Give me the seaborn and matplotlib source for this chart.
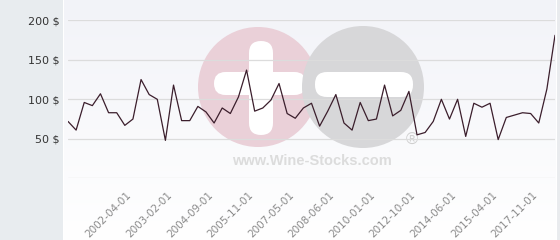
import numpy as np
import pandas as pd
import matplotlib
matplotlib.use("Agg")
import matplotlib.pyplot as plt
import matplotlib.transforms as mtransforms
from matplotlib.patches import Circle, FancyBboxPatch, Rectangle
import seaborn as sns

# ---- data ----
prices = [72, 61, 96, 92, 107, 83, 83, 67, 75, 125,
          106, 100, 48, 118, 73, 73, 91, 84, 70, 89,
          82, 103, 137, 85, 89, 99, 120, 82, 76, 89,
          95, 66, 85, 106, 70, 61, 96, 73, 75, 118,
          79, 86, 110, 55, 58, 72, 100, 75, 100, 53,
          95, 90, 95, 49, 77, 80, 83, 82, 70, 113, 181]
tick_labels = ["2002-04-01", "2003-02-01", "2004-09-01", "2005-11-01",
               "2007-05-01", "2008-06-01", "2010-01-01", "2012-10-01",
               "2014-06-01", "2015-04-01", "2017-11-01"]
tick_index = [8, 13, 18, 23, 28, 33, 38, 43, 48, 53, 58]
y_ticks = [0, 50, 100, 150, 200]
y_tick_labels = ["", "50 $", "100 $", "150 $", "200 $"]

df = pd.DataFrame({"idx": np.arange(len(prices)), "price": prices})

sns.set_style("white")
plt.rcParams['font.family'] = ['DejaVu Sans']

W, H = 560, 240
fig = plt.figure(figsize=(W / 100, H / 100), dpi=100)
fig.patch.set_facecolor("white")

# left panel
fig.add_artist(Rectangle((0, 0), 63 / W, 1, transform=fig.transFigure,
                         facecolor="#e8ecef", edgecolor="none", zorder=0))
fig.add_artist(Rectangle((557 / W, 0), 3 / W, 1, transform=fig.transFigure,
                         facecolor="#e9ebee", edgecolor="none", zorder=0))

# gradient background of plot region
ax_bg = fig.add_axes([64 / W, 0, 492 / W, 1], zorder=0)
grad = np.linspace(0, 1, 256).reshape(-1, 1)
top = np.array([242, 243, 248]) / 255
bot = np.array([255, 255, 255]) / 255
img = top[None, None, :] * (1 - grad[:, :, None]) + bot[None, None, :] * grad[:, :, None]
ax_bg.imshow(img, aspect="auto", extent=[0, 1, 0, 1], origin="upper")
ax_bg.set_axis_off()

# watermark (pixel coords -> figure coords)
ax_wm = fig.add_axes([0, 0, 1, 1], zorder=1)
ax_wm.set_xlim(0, W)
ax_wm.set_ylim(H, 0)
ax_wm.set_axis_off()
ax_wm.patch.set_alpha(0)
ax_wm.add_patch(Circle((258, 87), 60, facecolor="#ead0d8", edgecolor="none"))
ax_wm.add_patch(FancyBboxPatch((249, 41), 24, 94, boxstyle="round,pad=0,rounding_size=12",
                               facecolor="white", edgecolor="none"))
ax_wm.add_patch(FancyBboxPatch((214, 72), 92, 23, boxstyle="round,pad=0,rounding_size=11.5",
                               facecolor="white", edgecolor="none"))
ax_wm.add_patch(Circle((363, 87), 61, facecolor="#d7d7d9", edgecolor="none"))
ax_wm.add_patch(FancyBboxPatch((315, 72), 98, 25, boxstyle="round,pad=0,rounding_size=12",
                               facecolor="white", edgecolor="none"))
ax_wm.text(312, 161, "www.Wine-Stocks.com", ha="center", va="center",
           fontsize=10.5, fontweight="bold", color="#dcdcdc",
           family=["Liberation Sans", "DejaVu Sans"])
ax_wm.text(412, 140, "®", ha="center", va="center", fontsize=12,
           color="#cfcfcf", family=["Liberation Sans", "DejaVu Sans"])

# main axes
x0, x1 = 68, 555
y_top, y_bot = 20.3, 178.3
ax = fig.add_axes([x0 / W, (H - y_bot) / H, (x1 - x0) / W, (y_bot - y_top) / H], zorder=2)
ax.patch.set_alpha(0)
sns.lineplot(data=df, x="idx", y="price", ax=ax, color="#3b1e2c", linewidth=0.9)
ax.set_xlim(0, len(prices) - 1)
ax.set_ylim(0, 200)
ax.set_yticks(y_ticks)
ax.set_yticklabels(y_tick_labels)
ax.yaxis.grid(True, color="#dcdcdc", linewidth=0.9)
ax.xaxis.grid(False)
ax.set_axisbelow(True)
for s in ax.spines.values():
    s.set_visible(False)
ax.tick_params(axis="y", length=0, pad=6.3, labelsize=8, labelcolor="#333333")
ax.set_xticks(tick_index)
ax.set_xticklabels(tick_labels)
ax.tick_params(axis="x", length=0, pad=11, labelsize=7.5, labelcolor="#8a8a8a")
offset = mtransforms.ScaledTranslation(-3 / 100, 0, fig.dpi_scale_trans)
for lbl in ax.get_xticklabels():
    lbl.set_rotation(45)
    lbl.set_ha("right")
    lbl.set_va("center")
    lbl.set_rotation_mode("anchor")
    lbl.set_transform(lbl.get_transform() + offset)
ax.set_xlabel("")
ax.set_ylabel("")

fig.savefig("out.png", dpi=100)
